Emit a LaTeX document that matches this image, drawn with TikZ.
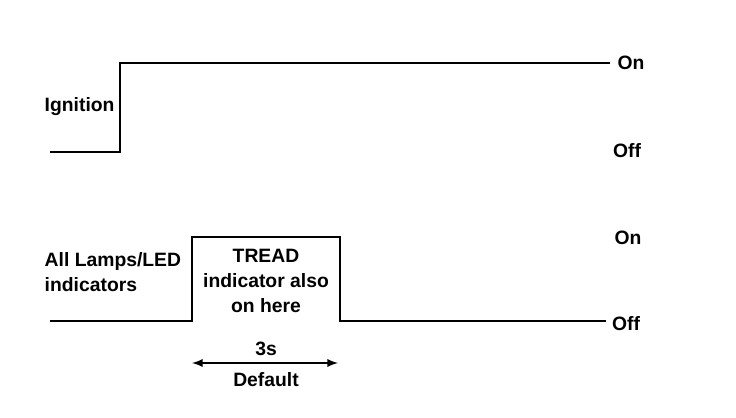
\documentclass[tikz,border=0pt]{standalone}
\usepackage{fontspec}
\setmainfont{Liberation Sans}
\usetikzlibrary{positioning}
\tikzset{> = latex, every picture/.style={line width=1.1pt}}

\begin{document}
\begin{tikzpicture}[x=0.02cm,y=-0.02cm]
\useasboundingbox (0,0) rectangle (736,418);
\begin{scope}[every node/.style={font=\fontsize{11}{14.2}\selectfont\bfseries, inner sep=1pt}]
\node (IgOn)  at (631,63)  {On};
\node (IgOff) at (627,151) {Off};
\node (LpOn)  at (628,238) {On};
\node (LpOff) at (626,324) {Off};
\node (Ig)  [anchor=west] at (42,107) {Ignition};
\node (Lp)  [anchor=west, align=left] at (42,272) {All Lamps/LED\\indicators};
\node (Tread) [align=center] at (266,281) {TREAD\\indicator also\\on here};
\node (Dur) at (266,349) {3s};
\node (Def) at (266,380) {Default};
\end{scope}

% ignition trace
\coordinate (I0) at (50,152);
\coordinate (I1) at (120,152);
\coordinate (I2) at (120,63);
\coordinate (I3) at (610,63);
\draw (I0) -- (I1) -- (I2) -- (I3);

% lamp trace
\coordinate (L0) at (50,321);
\coordinate (L1) at (192,321);
\coordinate (L2) at (192,237);
\coordinate (L3) at (340,237);
\coordinate (L4) at (340,321);
\coordinate (L5) at (606,321);
\draw (L0) -- (L1) -- (L2) -- (L3) -- (L4) -- (L5);

% duration
\coordinate (D0) at (192,363);
\coordinate (D1) at (338,363);
\draw [<->] (D0) -- (D1);
\end{tikzpicture}
\end{document}
